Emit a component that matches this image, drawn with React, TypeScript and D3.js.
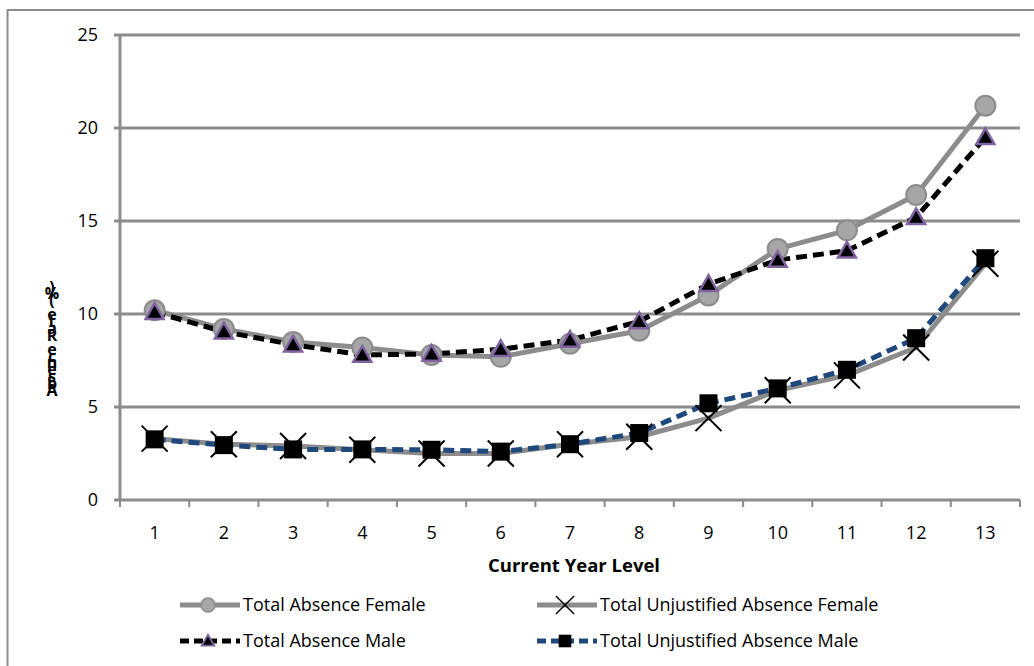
import React from "react";
import * as d3 from "d3";

const categories = ["1", "2", "3", "4", "5", "6", "7", "8", "9", "10", "11", "12", "13"];
const yTicks = [0, 5, 10, 15, 20, 25];
const totalAbsenceFemale = [10.2, 9.2, 8.5, 8.2, 7.8, 7.7, 8.4, 9.1, 11.0, 13.5, 14.5, 16.4, 21.2];
const totalUnjustifiedFemale = [3.3, 3.0, 2.9, 2.7, 2.5, 2.5, 3.0, 3.4, 4.4, 5.9, 6.7, 8.2, 12.7];
const totalAbsenceMale = [10.1, 9.05, 8.35, 7.8, 7.85, 8.1, 8.6, 9.6, 11.6, 12.9, 13.4, 15.2, 19.5];
const totalUnjustifiedMale = [3.26, 2.95, 2.72, 2.72, 2.7, 2.6, 3.0, 3.6, 5.2, 6.0, 7.0, 8.7, 13.0];

const FONT = "'Open Sans', 'Liberation Sans', sans-serif";
const GRID = "#8c8c8c";

const W = 1034, H = 666;
const left = 120, right = 1020, top = 35, bottom = 500;

type Kind = "circle" | "x" | "triangle" | "square";

function Marker({ kind, x, y }: { kind: Kind; x: number; y: number }) {
  if (kind === "circle") return <circle cx={x} cy={y} r={10} fill="#a6a6a6" stroke="#8c8c8c" strokeWidth={2} />;
  if (kind === "x") {
    const s = 13;
    return (
      <g stroke="#000" strokeWidth={2}>
        <line x1={x - s} y1={y - s} x2={x + s} y2={y + s} />
        <line x1={x - s} y1={y + s} x2={x + s} y2={y - s} />
      </g>
    );
  }
  if (kind === "triangle") {
    const w = 9, h = 15;
    return <path d={`M${x},${y - h * 0.6}L${x + w},${y + h * 0.45}L${x - w},${y + h * 0.45}Z`} fill="#000" stroke="#8064a2" strokeWidth={2.5} strokeLinejoin="miter" />;
  }
  return <rect x={x - 9} y={y - 9} width={18} height={18} fill="#000" />;
}

const series = [
  { name: "Total Absence Female", values: totalAbsenceFemale, color: "#8c8c8c", dash: "", kind: "circle" as Kind },
  { name: "Total Unjustified Absence Female", values: totalUnjustifiedFemale, color: "#8c8c8c", dash: "", kind: "x" as Kind },
  { name: "Total Absence Male", values: totalAbsenceMale, color: "#000000", dash: "11,6", kind: "triangle" as Kind },
  { name: "Total Unjustified Absence Male", values: totalUnjustifiedMale, color: "#1f497d", dash: "11,6", kind: "square" as Kind },
];

export default function App() {
  const x = d3.scaleBand().domain(categories).range([left, right]);
  const y = d3.scaleLinear().domain([0, 25]).range([bottom, top]);
  const cx = (c: string) => (x(c) as number) + x.bandwidth() / 2;
  const line = d3.line<number>().x((_, i) => cx(categories[i])).y((v) => y(v));

  const yLabel = "Absence Rate (%)";
  const yLabelChars = yLabel.split("");

  const legendPos = [
    { lx: 180, ly: 605 },
    { lx: 537, ly: 605 },
    { lx: 180, ly: 641 },
    { lx: 537, ly: 641 },
  ];

  return (
    <svg width={W} height={H} style={{ position: "absolute", left: 0, top: 0 }} fontFamily={FONT}>
      <rect x={0} y={0} width={W} height={H} fill="#fff" />
      <rect x={7.5} y={10} width={W + 20} height={H + 20} fill="none" stroke={GRID} strokeWidth={2} />
      {/* gridlines */}
      {yTicks.map((t) => (
        <g key={t}>
          <line x1={left - 6} x2={right} y1={y(t)} y2={y(t)} stroke={GRID} strokeWidth={3} />
          <text x={98} y={y(t) + 6} textAnchor="end" fontSize={18} fill="#000">{t}</text>
        </g>
      ))}
      <line x1={left} x2={left} y1={top} y2={bottom} stroke={GRID} strokeWidth={3} />
      {/* x ticks */}
      {categories.map((c) => (
        <line key={"t" + c} x1={(x(c) as number)} x2={(x(c) as number)} y1={bottom} y2={bottom + 7} stroke={GRID} strokeWidth={2} />
      ))}
      <line x1={right} x2={right} y1={bottom} y2={bottom + 7} stroke={GRID} strokeWidth={2} />
      {categories.map((c) => (
        <text key={"l" + c} x={cx(c)} y={539} textAnchor="middle" fontSize={18} fill="#000">{c}</text>
      ))}
      <text x={574} y={572} textAnchor="middle" fontSize={18.5} fontWeight="bold" fill="#000">Current Year Level</text>
      {/* y label, stacked glyphs */}
      {yLabelChars.map((ch, i) => (
        <text key={"y" + i} x={52} y={396 - i * 6.9} textAnchor="middle" fontSize={16} fontWeight="bold" fill="#000">{ch}</text>
      ))}
      {/* series */}
      {series.map((s) => (
        <path key={s.name} d={line(s.values) as string} fill="none" stroke={s.color} strokeWidth={5} strokeDasharray={s.dash || undefined} strokeLinejoin="round" />
      ))}
      {series.map((s) => (
        <g key={s.name + "m"}>
          {s.values.map((v, i) => (
            <Marker key={i} kind={s.kind} x={cx(categories[i])} y={y(v)} />
          ))}
        </g>
      ))}
      {/* legend */}
      {series.map((s, i) => {
        const { lx, ly } = legendPos[i];
        return (
          <g key={s.name + "lg"}>
            <line x1={lx} x2={lx + 60} y1={ly} y2={ly} stroke={s.color} strokeWidth={5} strokeDasharray={s.dash ? "9,5" : undefined} />
            <g transform={`translate(${lx + 28},${ly}) scale(0.7) translate(${-(lx + 28)},${-ly})`}>
              <Marker kind={s.kind} x={lx + 28} y={ly} />
            </g>
            <text x={lx + 63} y={ly + 6} fontSize={18} fill="#000">{s.name}</text>
          </g>
        );
      })}
    </svg>
  );
}
